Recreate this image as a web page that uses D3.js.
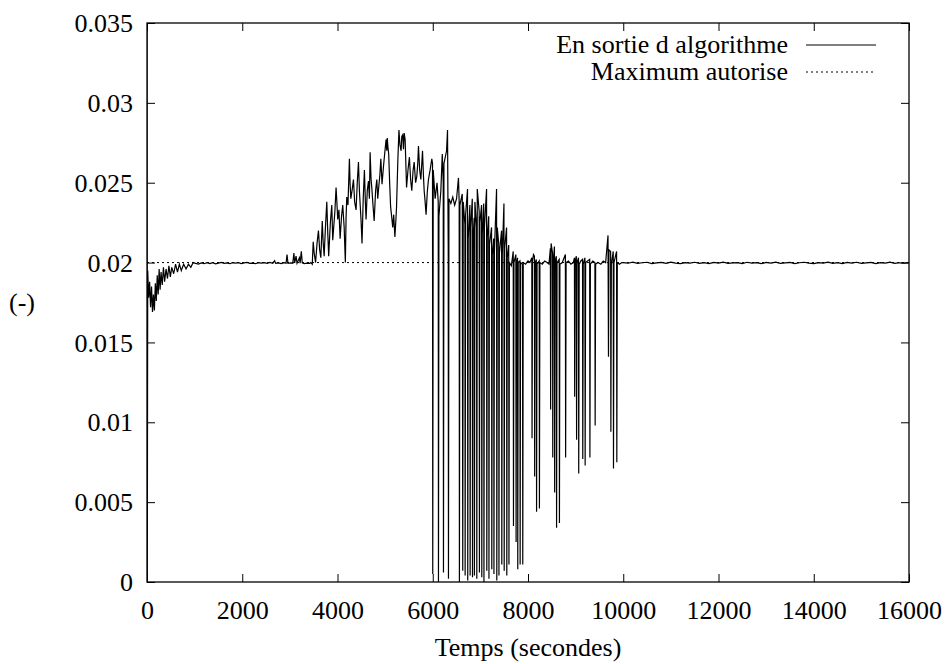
<!DOCTYPE html>
<html>
<head>
<meta charset="utf-8">
<script src="https://cdn.jsdelivr.net/npm/d3@7"></script>
<style>
  body { margin: 0; background: #fff; }
  svg { display: block; }
  svg text { font-family: "Liberation Serif", "Times New Roman", Times, "DejaVu Serif", serif; font-size: 26px; fill: #000; }
</style>
</head>
<body>
<svg id="chart"></svg>
<script>
// [temps (s), valeur]
let startPhase = [
    [0, 0.036], [6, 0], [15, 0.0195], [35, 0.0178], [55, 0.0188], [75, 0.0172], [95, 0.0185],
    [115, 0.0169], [135, 0.0180], [155, 0.0170], [175, 0.0187], [195, 0.0176], [215, 0.0192],
    [235, 0.0180], [255, 0.0196], [275, 0.0183], [295, 0.0194], [320, 0.0186], [345, 0.0197],
    [370, 0.0188], [400, 0.0196], [430, 0.0190], [460, 0.0198], [490, 0.0191], [520, 0.0197],
    [560, 0.0193], [600, 0.0199], [640, 0.0194], [680, 0.0199], [720, 0.0195], [770, 0.0199],
    [820, 0.0196], [870, 0.0199], [920, 0.0197], [970, 0.0200]
];

let steadyPhase = [
    [1020, 0.01995], [1080, 0.01990], [1140, 0.01998], [1200, 0.01993], [1260, 0.02000],
    [1320, 0.01994], [1380, 0.01999], [1440, 0.01992], [1500, 0.01997], [1560, 0.02001],
    [1620, 0.01995], [1680, 0.01998], [1740, 0.01993], [1800, 0.02000], [1860, 0.01996],
    [1920, 0.01999], [1980, 0.01994], [2040, 0.01998], [2100, 0.02001], [2160, 0.01995],
    [2220, 0.01997], [2280, 0.01993], [2340, 0.02000], [2400, 0.01996], [2460, 0.01999],
    [2520, 0.01995], [2580, 0.02001], [2640, 0.01996], [2680, 0.02012], [2700, 0.01995],
    [2760, 0.01998], [2820, 0.01994], [2880, 0.01999], [2920, 0.01996], [2940, 0.0205],
    [2960, 0.01995], [3020, 0.01998], [3060, 0.01996], [3085, 0.0206], [3100, 0.01997],
    [3130, 0.0204], [3150, 0.01995], [3200, 0.0203], [3215, 0.01996], [3240, 0.0207],
    [3260, 0.01998], [3300, 0.01994], [3360, 0.01997], [3420, 0.01995]
];

let risePhase = [
    [3440, 0.0200], [3470, 0.0199], [3490, 0.0213], [3510, 0.0206], [3540, 0.0200], [3570, 0.0212],
    [3600, 0.0220], [3625, 0.0208], [3650, 0.0203], [3680, 0.0226], [3700, 0.0212], [3720, 0.0204],
    [3745, 0.0221], [3775, 0.0238], [3795, 0.0219], [3815, 0.0204], [3850, 0.0225], [3880, 0.0236],
    [3900, 0.0214], [3915, 0.0220], [3945, 0.0232], [3970, 0.0247], [3990, 0.0236], [4005, 0.0227],
    [4030, 0.0233], [4055, 0.0215], [4085, 0.0229], [4110, 0.0236], [4140, 0.0222], [4165, 0.0200],
    [4180, 0.0228], [4195, 0.0241], [4220, 0.0236], [4250, 0.0265], [4265, 0.0249], [4280, 0.0240],
    [4310, 0.0246], [4335, 0.0252], [4360, 0.0238], [4390, 0.0233], [4415, 0.0250], [4440, 0.0263],
    [4460, 0.0245], [4475, 0.0237], [4495, 0.0226], [4515, 0.0212], [4540, 0.0240], [4565, 0.0258],
    [4585, 0.0238], [4600, 0.0227], [4625, 0.0245], [4650, 0.0251], [4670, 0.0240], [4685, 0.0269],
    [4705, 0.0252], [4720, 0.0247], [4745, 0.0236], [4770, 0.0226], [4800, 0.0245], [4825, 0.0252],
    [4845, 0.0240], [4865, 0.0247], [4890, 0.0255], [4910, 0.0265], [4935, 0.0249], [4965, 0.0260],
    [4990, 0.0268], [5020, 0.0277], [5035, 0.0270], [5045, 0.0278], [5060, 0.0272], [5075, 0.0268],
    [5095, 0.0250], [5115, 0.0235], [5140, 0.0228], [5160, 0.0222], [5180, 0.0230], [5205, 0.0216],
    [5225, 0.0226], [5240, 0.0235], [5265, 0.0262], [5290, 0.0283], [5310, 0.0274], [5335, 0.0270],
    [5350, 0.0279], [5370, 0.0280], [5385, 0.0271], [5400, 0.0281], [5420, 0.0277], [5435, 0.0262],
    [5450, 0.0247], [5480, 0.0258], [5510, 0.0266], [5535, 0.0252], [5560, 0.0245], [5585, 0.0257],
    [5610, 0.0263], [5640, 0.0250], [5665, 0.0254], [5685, 0.0262], [5700, 0.0273], [5725, 0.0258],
    [5750, 0.0252], [5770, 0.0262], [5785, 0.0270], [5805, 0.0254], [5820, 0.0245], [5840, 0.0238],
    [5860, 0.0230], [5885, 0.0244], [5910, 0.0252], [5945, 0.0258], [5980, 0.0265], [5995, 0.0262]
];

let dropPhase = [
    [6000, 0.0005], [6010, 0.0258], [6050, 0.0240], [6090, 0.0250], [6115, 0.0238], [6120, 0.0],
    [6130, 0.0229], [6170, 0.0245], [6200, 0.0268], [6220, 0.0250], [6225, 0.0006], [6235, 0.0262],
    [6290, 0.0270], [6310, 0.0283], [6325, 0.0210], [6330, 0.0002], [6340, 0.0240], [6380, 0.0237],
    [6420, 0.0241], [6460, 0.0236], [6500, 0.0240], [6540, 0.0253], [6555, 0.0238], [6560, 0.0],
    [6570, 0.0236], [6620, 0.0243], [6630, 0.0007], [6640, 0.0238], [6675, 0.0224], [6680, 0.0004],
    [6690, 0.0230], [6730, 0.0246], [6735, 0.0001], [6745, 0.0215], [6780, 0.0236], [6785, 0.0004],
    [6795, 0.0222], [6830, 0.0240], [6835, 0.0003], [6845, 0.0215], [6870, 0.0228], [6875, 0.0004],
    [6885, 0.0238], [6920, 0.0222], [6925, 0.0002], [6935, 0.0246], [6975, 0.0232], [6980, 0.0006],
    [6990, 0.0225], [7025, 0.0236], [7030, 0.0003], [7040, 0.0218], [7070, 0.0237], [7075, 0.0],
    [7085, 0.0222], [7130, 0.0246], [7135, 0.0007], [7145, 0.0216], [7175, 0.0229], [7180, 0.0002],
    [7190, 0.0211], [7235, 0.0222], [7240, 0.0008], [7250, 0.0205], [7280, 0.0215], [7285, 0.0005],
    [7295, 0.0207], [7340, 0.0246], [7345, 0.0001], [7355, 0.0222], [7385, 0.0212], [7390, 0.0004],
    [7400, 0.0206], [7445, 0.0220], [7450, 0.0011], [7460, 0.0205], [7495, 0.0237], [7500, 0.0007],
    [7510, 0.0209], [7550, 0.0222], [7555, 0.0004], [7565, 0.0203], [7595, 0.0211], [7600, 0.0011],
    [7610, 0.0200], [7650, 0.0198], [7690, 0.0207], [7695, 0.0035], [7705, 0.0200], [7745, 0.0205],
    [7750, 0.0025], [7760, 0.0199], [7780, 0.0203], [7785, 0.0008], [7795, 0.0200], [7830, 0.0201],
    [7835, 0.0011], [7845, 0.0200], [7885, 0.0199], [7890, 0.0011], [7900, 0.0200]
];

let recoveryPhase = [
    [7950, 0.0199], [8000, 0.0201], [8040, 0.0200], [8080, 0.0203], [8085, 0.0090], [8095, 0.0201],
    [8115, 0.0205], [8135, 0.0204], [8140, 0.0066], [8150, 0.0200], [8175, 0.0202], [8180, 0.0044],
    [8190, 0.0199], [8235, 0.0201], [8240, 0.0046], [8250, 0.0200], [8300, 0.0199], [8350, 0.0201],
    [8400, 0.0200], [8440, 0.0199], [8470, 0.0209], [8475, 0.0108], [8485, 0.0212], [8515, 0.0206],
    [8520, 0.0078], [8530, 0.0200], [8555, 0.0210], [8560, 0.0056], [8570, 0.0201], [8595, 0.0204],
    [8600, 0.0034], [8610, 0.0200], [8655, 0.0202], [8660, 0.0037], [8670, 0.0199], [8720, 0.0200],
    [8785, 0.0205], [8790, 0.0078], [8800, 0.0200], [8850, 0.0201], [8900, 0.0199], [8950, 0.0200],
    [8975, 0.0203], [8980, 0.0116], [8990, 0.0201], [9015, 0.0204], [9020, 0.0089], [9030, 0.0200],
    [9060, 0.0203], [9065, 0.0068], [9075, 0.0199], [9110, 0.0201], [9145, 0.0202], [9150, 0.0077],
    [9160, 0.0199], [9195, 0.0203], [9200, 0.0073], [9210, 0.0200], [9250, 0.0201], [9295, 0.0202],
    [9300, 0.0078], [9310, 0.0199], [9360, 0.0201], [9405, 0.0200], [9410, 0.0098], [9420, 0.0199],
    [9470, 0.0200], [9530, 0.0199], [9580, 0.0201], [9630, 0.0200], [9680, 0.0217], [9690, 0.0141],
    [9700, 0.0208], [9735, 0.0207], [9740, 0.0094], [9750, 0.0199], [9790, 0.0207], [9795, 0.0071],
    [9805, 0.0200], [9860, 0.0207], [9865, 0.0075], [9875, 0.0200], [9920, 0.0199], [9970, 0.0200]
];

let tailPhase = [
    [10000, 0.02000], [10100, 0.01996], [10200, 0.02003], [10300, 0.01995], [10400, 0.01999],
    [10500, 0.02002], [10600, 0.01994], [10700, 0.01998], [10800, 0.02001], [10900, 0.01995],
    [11000, 0.02003], [11100, 0.01997], [11200, 0.01993], [11300, 0.02000], [11400, 0.01996],
    [11500, 0.02002], [11600, 0.01995], [11700, 0.01999], [11800, 0.01994], [11900, 0.02001],
    [12000, 0.01997], [12100, 0.02003], [12200, 0.01995], [12300, 0.01998], [12400, 0.02000],
    [12500, 0.01994], [12600, 0.02002], [12700, 0.01996], [12800, 0.01999], [12900, 0.01993],
    [13000, 0.02001], [13100, 0.01997], [13200, 0.02003], [13300, 0.01995], [13400, 0.01998],
    [13500, 0.02001], [13600, 0.01994], [13700, 0.01999], [13800, 0.02002], [13900, 0.01996],
    [14000, 0.01993], [14100, 0.02000], [14200, 0.01997], [14300, 0.02003], [14400, 0.01995],
    [14500, 0.01999], [14600, 0.01994], [14700, 0.02001], [14800, 0.01996], [14900, 0.02002],
    [15000, 0.01995], [15100, 0.01998], [15200, 0.02001], [15300, 0.01994], [15400, 0.02000],
    [15500, 0.01997], [15600, 0.02003], [15700, 0.01995], [15800, 0.01999], [15900, 0.01996],
    [16000, 0.02000]
];

let maxAllowed = 0.02;
let legendNames = ["En sortie d algorithme", "Maximum autorise"];
let xTicks = [0, 2000, 4000, 6000, 8000, 10000, 12000, 14000, 16000];
let yTicks = [0, 0.005, 0.01, 0.015, 0.02, 0.025, 0.03, 0.035];
let yTickLabels = ["0", "0.005", "0.01", "0.015", "0.02", "0.025", "0.03", "0.035"];

let serif = '"Liberation Serif", "Times New Roman", Times, "DejaVu Serif", serif';

function drawChart() {
    let W = 946, H = 664;
    let m = { left: 147, right: 37, top: 23, bottom: 82 };
    let w = W - m.left - m.right, h = H - m.top - m.bottom;

    let svg = d3.select("#chart").attr("width", W).attr("height", H)
        .attr("font-family", serif).attr("font-size", 26);
    let g = svg.append("g").attr("transform", `translate(${m.left},${m.top})`);

    let x = d3.scaleLinear().domain([0, 16000]).range([0, w]);
    let y = d3.scaleLinear().domain([0, 0.035]).range([h, 0]);

    svg.append("clipPath").attr("id", "clip")
        .append("rect").attr("width", w).attr("height", h);

    // axes: ticks pointing inward, mirrored on top/right
    let bottom = g.append("g").attr("transform", `translate(0,${h})`)
        .call(d3.axisBottom(x).tickValues(xTicks).tickSize(-8).tickPadding(19).tickFormat(d3.format("d")));
    let left = g.append("g")
        .call(d3.axisLeft(y).tickValues(yTicks).tickSize(-8).tickPadding(14).tickFormat((d, i) => yTickLabels[i]));
    g.append("g").call(d3.axisTop(x).tickValues(xTicks).tickSize(-8).tickFormat(""));
    g.append("g").attr("transform", `translate(${w},0)`)
        .call(d3.axisRight(y).tickValues(yTicks).tickSize(-8).tickFormat(""));

    g.selectAll(".domain").remove();
    g.selectAll("g").attr("font-family", serif).attr("font-size", 26);
    g.selectAll(".tick line").attr("stroke", "#000").attr("stroke-width", 1);
    g.selectAll(".tick text").style("font-family", serif).style("font-size", "26px").attr("fill", "#000");
    left.selectAll(".tick text").attr("dy", "0.33em");

    let series = [].concat(startPhase, steadyPhase, risePhase, dropPhase, recoveryPhase, tailPhase);

    let line = d3.line().x(d => x(d[0])).y(d => y(d[1]));

    let plot = g.append("g").attr("clip-path", "url(#clip)");

    plot.append("line")
        .attr("x1", 0).attr("x2", w)
        .attr("y1", y(maxAllowed)).attr("y2", y(maxAllowed))
        .attr("stroke", "#000").attr("stroke-width", 1)
        .attr("stroke-dasharray", "2,3");

    plot.append("path")
        .datum(series)
        .attr("fill", "none")
        .attr("stroke", "#000")
        .attr("stroke-width", 1.2)
        .attr("d", line);

    // frame
    g.append("rect")
        .attr("width", w).attr("height", h)
        .attr("fill", "none").attr("stroke", "#000").attr("stroke-width", 1.3);

    // legend
    let legend = svg.append("g");
    legendNames.forEach((name, i) => {
        let ly = 45 + i * 27;
        legend.append("text")
            .attr("x", 788).attr("y", ly + 8)
            .attr("text-anchor", "end")
            .style("font-family", serif)
            .text(name);
        legend.append("line")
            .attr("x1", 806).attr("x2", 876)
            .attr("y1", ly).attr("y2", ly)
            .attr("stroke", "#000").attr("stroke-width", 1)
            .attr("stroke-dasharray", i == 1 ? "2,3" : null);
    });

    svg.append("text")
        .attr("x", m.left + w / 2).attr("y", 656)
        .attr("text-anchor", "middle")
        .style("font-family", serif)
        .text("Temps (secondes)");

    svg.append("text")
        .attr("x", 22).attr("y", m.top + h / 2 + 8)
        .attr("text-anchor", "middle")
        .style("font-family", serif)
        .text("(-)");
}

window.onload = function() {
    drawChart();
}
</script>
</body>
</html>
